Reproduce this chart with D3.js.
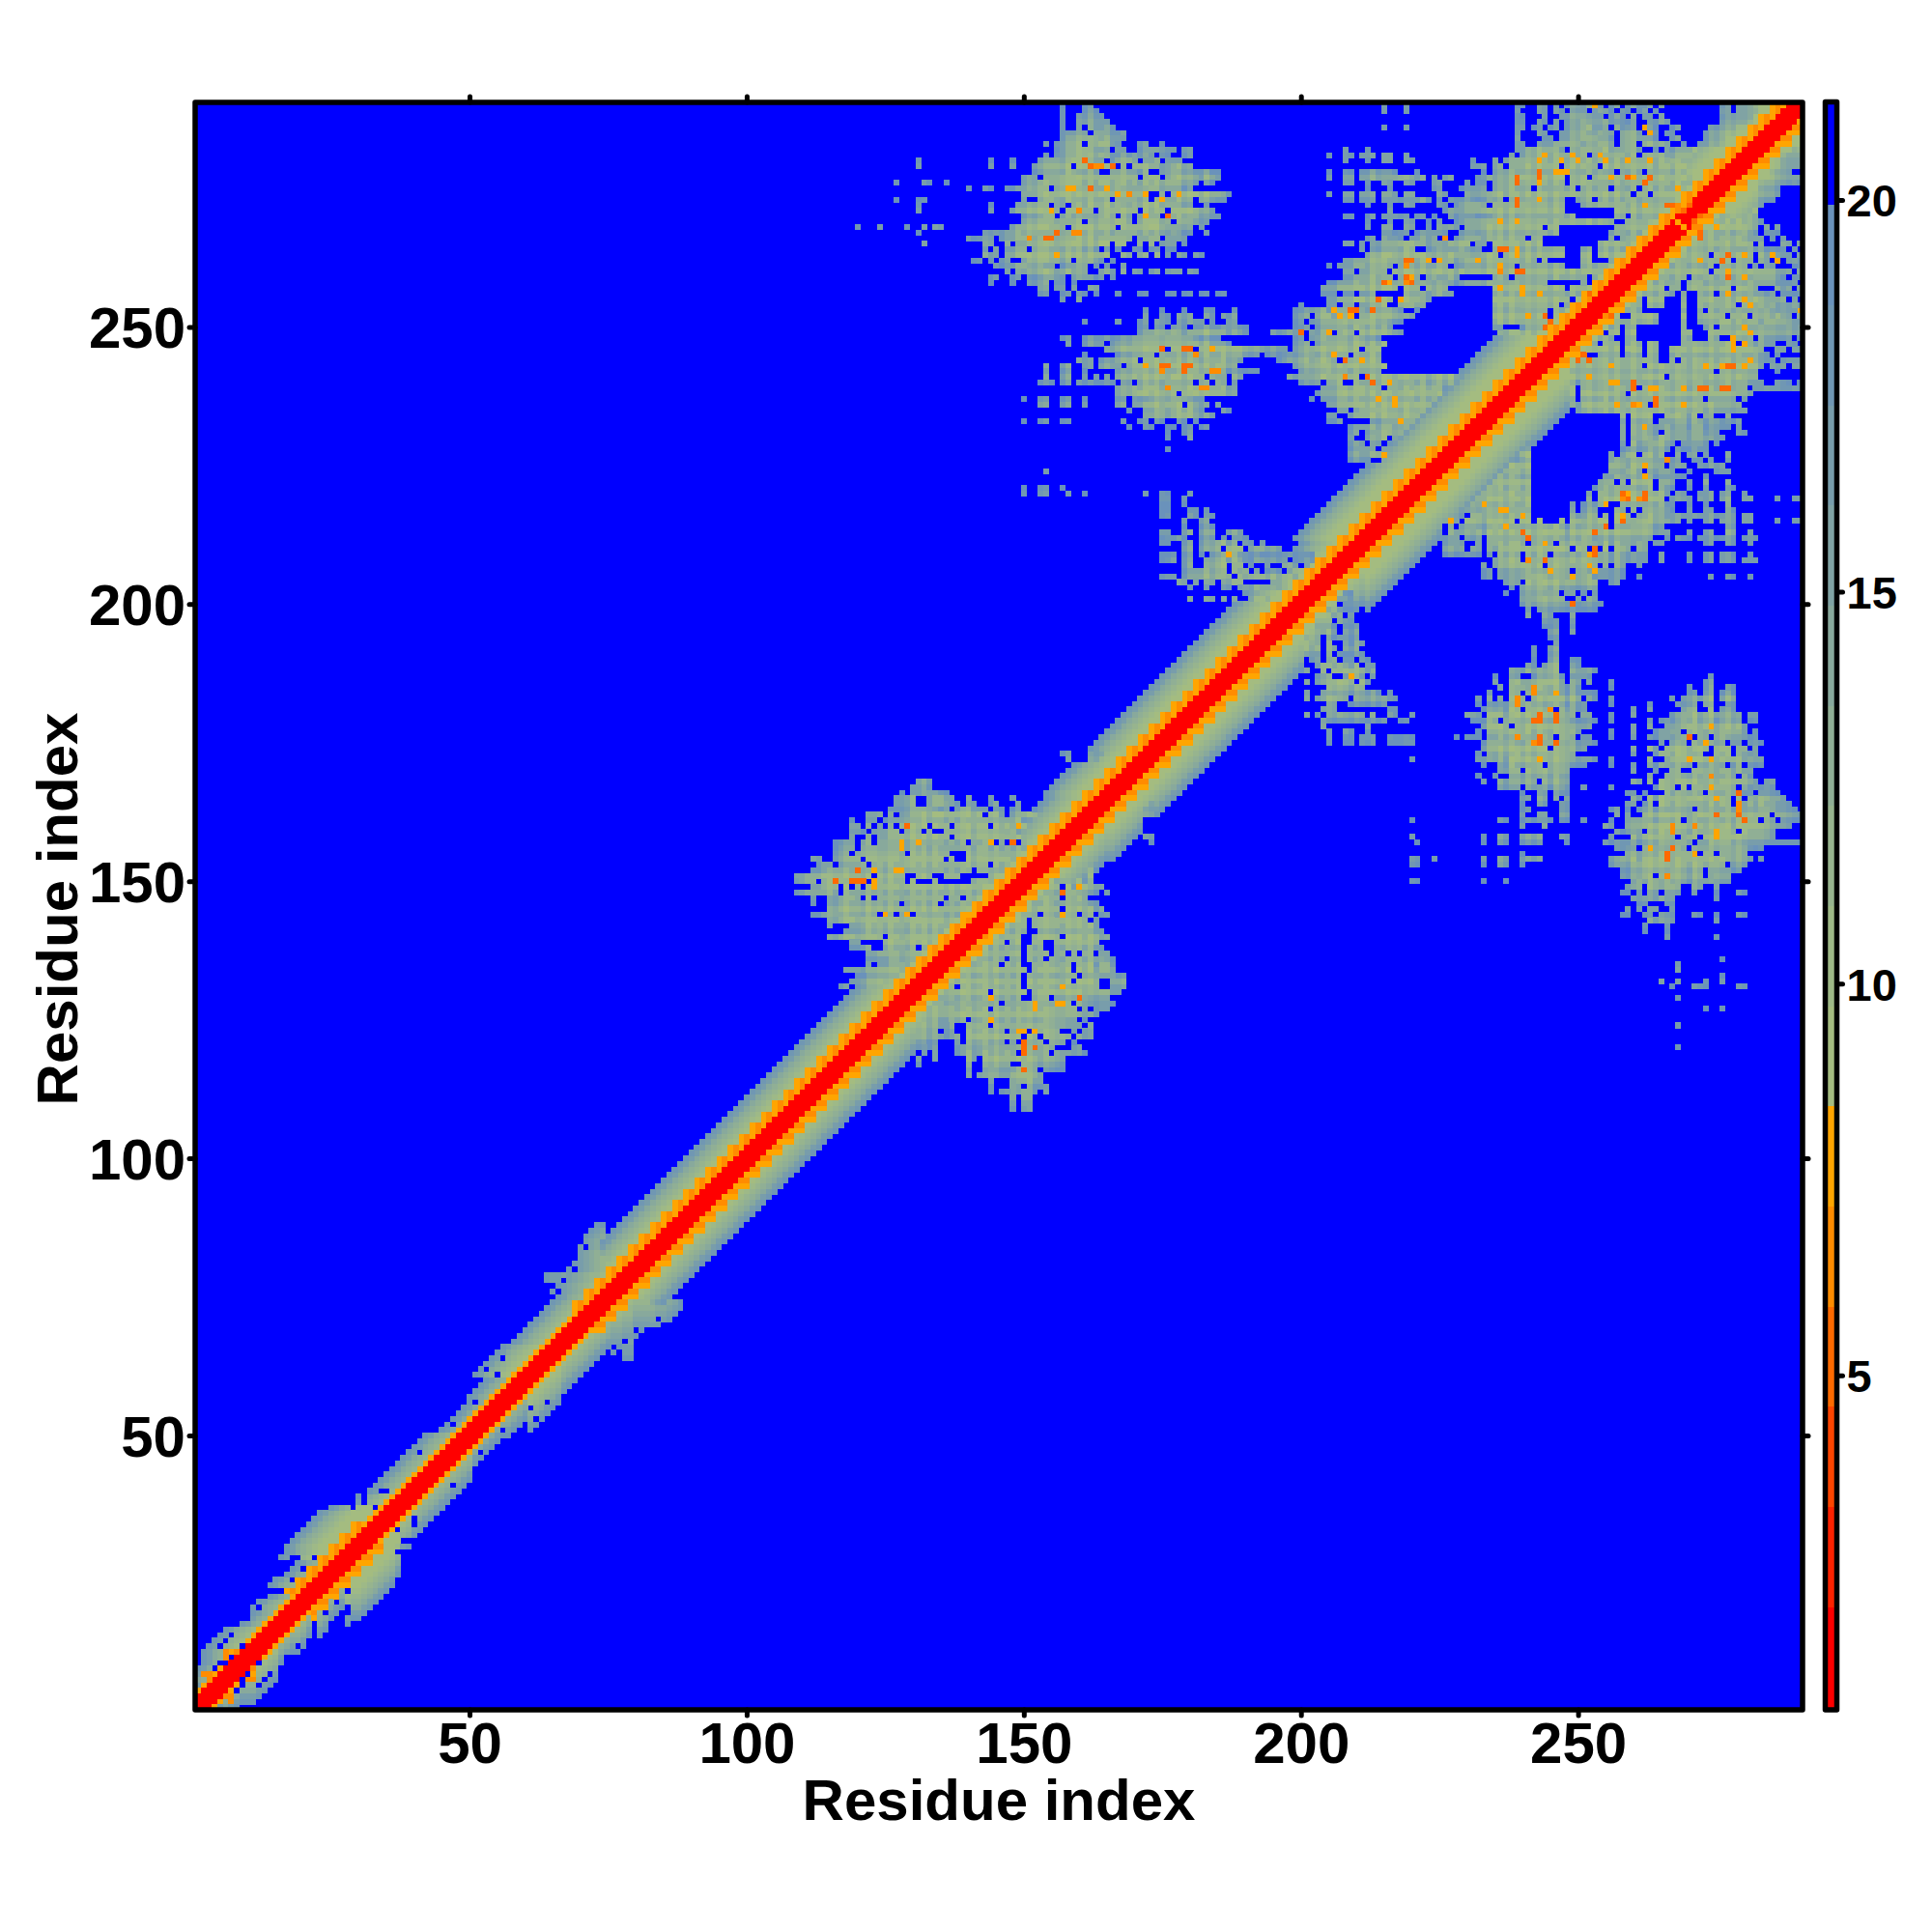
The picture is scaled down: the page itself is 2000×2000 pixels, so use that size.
<!DOCTYPE html>
<html><head><meta charset="utf-8">
<script src="https://cdnjs.cloudflare.com/ajax/libs/d3/7.8.5/d3.min.js"></script>
<style>html,body{margin:0;background:#fff}svg{display:block}text{font-family:"Liberation Sans",Arial,sans-serif;font-weight:bold;fill:#000}</style>
</head><body><div id="chart"></div>
<script>
const residueCount = 290;
const axisTicks = [50,100,150,200,250];
const barTicks = [5,10,15,20];
const barDomain = [0.77,21.22];
const bandColors = ["#ff0000","#ff2200","#ff4500","#ff6a00","#ff8c00","#ffa500","#a4bc80","#9eb987","#97b48e","#90af95","#88a99c","#80a3a4","#789dab","#7097b3","#6a92bb","#0000ff"];
// tone letters, from closest to farthest band
const toneOrder = "rRstoyihgfedcba.";
// [last row of the stretch, how far the diagonal band reaches from the diagonal]
const bandReach = [[5,5],[9,7],[10,8],[15,9],[18,7],[20,8],[22,7],[24,9],[27,8],[29,12],[36,13],[37,12],[39,9],[50,8],[56,6],[60,7],[66,10],[76,9],[80,10],[165,11],[204,12],[211,11],[222,13],[290,13]];
const wideOrange = [[22,34],[73,290]];
const edgeTones = "bcefgh";
// single blue cells inside the band: [row, column]
const bandHoles = [[38,29],[38,31],[37,29],[40,34],[37,33],[28,22],[28,18],[28,19],[27,18],[26,20],[24,18],[22,15],[22,16],[19,12],[17,10],[14,7],[13,6],[12,5],[12,9],[10,7],[9,5],[9,6],[8,4],[40,35],[39,31],[47,41],[52,47],[56,51],[62,53],[64,56],[59,51],[61,55]];
// how each residue leans in the contact patches: + closer (greener), - farther (bluer), 0 neutral
const residueLean = "0000000000"+"0000000000"+"0000000000"+"0000000000"+"0000000000"+"0000000000"+"0000000000"+"0000000000"+"0000000000"+"0000000000"+"0000000000"
 +"+0-0+-0+0-"+"-+00-+0--+"+"0+-+0-0-++"+"-0+-+-0-+0"+"+-0+0--+0+"+"-+-0+-0+-0"+"-+0+--0+-+"+"0-+-0+-+0-"+"-+0-+-0+-0"
 +"+--+0-+0-+"+"0-+-+0--+0"+"-+-0+-+-0+"+"0--+0+-+0-"+"+-+0-+0-+-"+"0+-0+-+--+"+"-0+-+0-+0-"+"+0-+-0+-+0";
// "row firstColumn tones": cells above the diagonal, mirrored below it
const contactRows = [
"11 6 oyo","10 6 oo","7 2 oo","6 3 o",
"88 73 bb","87 72 bcd","86 71 bcde","85 71 cde","84 70 c.de","83 70 cdef","82 70 cdefg","81 69 bcdefg","80 68 b.cdef","79 64 bccdcdefg","78 64 bcc.cdefg","77 66 bcdefgf","76 65 b.cdefg",
"168 131 cdc","167 130 bcdc","166 128 b.cdefdcb","165 127 bcde..defdc..c...c...c","164 127 cdef..efgfdc.cd..cd...c","163 126 bcdefgfgdcf.efgedc.cd.cd..c",
"162 122 bcd.c.cdefgfghgfgfgfg.gfc.cdefg","161 119 b..cd.cdefgfghgfgfgfgfhgfgfgfgh","160 119 cd.d.c.d.gtgfg.gfg.gfgfgf.gfgfyg","159 119 cdb.cdefg.fgf.g..gfgfgfgfgfgfh","158 119 c..d.cdefgfgfgfgfg.gfgfgfgfgfgh",
"157 116 bcde.fg.fgfgyfgyfgfgfgfg.gfgy.g.t.g","156 116 cdef.gfgfgfgyfgfgfgfgfgfgfhgfgfgfgf","155 116 cde.fgfgfgfgf.gfgfgfg...gfgfgfgfg","154 112 cc..cdefg.fgfgfgfgfgfgfg.f..gfgfgfhgfgfgfg","153 113 cdc.cdefg.fgfgfghgfgfgfgfgfgfgf.gfgf",
"152 112 cdefgfgftgfygfgyygfgfgfgfgfgf.gfgfg.fgf","151 109 ccdefgfgfgfgfg.gfgfg..fgf..gfg.....fgfgfgfg","150 109 cdef.fgtgfttt.ygfgfg.g...f......fgfgfgfgf","149 109 ...cdefg.g.f.fyfgfgfgfgfgfgfgfgfgfgfgfg","148 109 cdefgfgf.gfgfgfgfgfgfgfgfgfghgfgfgfg",
"147 112 c..cdefgf.g.fgfgfgfgfgfg.fg.fgfgfgfg","146 112 c..defgfgfgfgfgf.fgfgfg.fgfgfgfgf","145 115 defgfgfgfgfgfgfgfgfgfgfgfgfg","144 112 cdefgfgfgfgf.yf.gy.gfgfgfgfgy.gf","143 115 cdefgfgfgfgfgfgfgfgfgfg.fgfg",
"142 115 c...defgfgfgfgfgfgfgfgfgf","141 118 cdefgfgfgfgfgfgfgfgfg","140 115 cdefgfgfgf.fgfgfgfgf.gf.fg","139 119 cd....fgfgfgfgfgfgf","138 119 cdef..fgfgfg.fgfg","137 122 cdfgfgfgfgf.","136 122 bcdefgfgfg","135 122 c.cdefgfg","134 118 bcdcdefgfgf","133 120 bcdefgfg","132 119 bcdefg","131 117 bc.cde",
"173 157 bb...cdd","172 158 b...cd","171 159 c",
"290 157 b...bb","289 157 c...bcb","288 157 c..bcdcb","287 157 c..cdedcb","286 157 c..c.edcdb","285 157 cbcde.fedcbc","284 157 cdefgfgefdcb","283 154 b.cdefg.fghgdb...cc..b","282 156 bdefghfedd.cb..bcdcdcb.cb","281 154 b.cdefghgfgecbdcdcdc.cb..bb",
"280 144 b...b....cdefefhgtfed.cefgd.cde.dcb","279 144 c...c...cdefgfg.ghtooft.e.fgfedcdefdc","278 152 cdefgfhgefge..gfgfedg..efgfedcdecb","277 150 bcd.defgfghgfgfegffgf.egf.efgfedcfeb","276 150 cdefgfghghgfgfhgfggfgegfgfhgfedc.cb",
"275 140 b..cc..ccdefghg.ghyyghtgfyghfgfgfhgfgfecd","274 150 dcefgfghgfhgfghfgyfofgy..f.fyghgfgfecb","273 150 e..fghgfhgfghgfg.gfhgfg.gygfhgf.gfecb","272 144 b....cdefgf.fe.fgfhgfhfgefgfhghfgfedc..b","271 144 c...cdefghfyf.fgoge.efgfhgf.gefg.gfhgfedc",
"270 150 cdefgh.fgefgefghg.gf.fygf.tghgfgeddc","269 150 defgfgfgefg.efgfghgf.fghgfg.fgedcb","268 148 cdefghgfgf.fghgfgfg.fgfgfhgfedcdc.c","267 143 cdcdefgfghgfgtgfooghgfgfgfhgfgfgfefdcb..c","266 140 bbbcd.cdefgofgttfgfghghfgfhgfg.fdgf.edcd",
"265 143 cd..e.cdefghgfgfhgfgfhg.gf..f.f.cdc.b","264 143 c.d.defg.ghgfgfgfgefd.c.b..cc.cc.bb","263 143 dcb.defghghgfyfgfgfhgfg..ee.ee.f.c.cc.cb","262 141 bb.c.cd..dfghgfgef.fgfeb.b","261 145 ccdefgefgde.cdefg.d.c..d","260 147 c.ccdefgfdefdde..cdc.d.cc.bc.ccb.bb","259 144 bc..bc.bcdefed.defdcd.d","258 144 b...c..cdef.dd.b","257 153 cc.cc.c..cd","256 153 cc..cc.cc.b...c...cb...cc.cb.cb.bb","255 157 c..c",
"280 131 b","279 131 b","276 127 b....bb..b","273 127 b...bb","272 131 b","271 131 b","268 120 b...b....b..b.bb","267 131 b","265 132 b",
"253 172 b..c...c...bb...b","252 172 b..cb.ccc..cb.bbc","251 161 c.....c...bc.cdc.ccdcd.c..dc","250 171 cc.cd.ddc.cdedcdedcb","249 171 bcdefefdcdefgfedcdcb","248 157 bc..cddcdbcdefgfgfghgfgedcdcb","247 158 c..cddc.cddefgfgfghgfgfgfgedcb","246 165 cdefgfghgft.gftt.gfyghgfgfedccccb","245 161 c.....bdefgfg.hgfgfgoghgfhgfgedc.bccccb.b","244 160 ddc.bcdefgh.fghghfgfgfefgfgedc",
"243 154 c..cd..cb.cddc.efgyfgttghttgfgfgfed","242 154 c..cd..c.....defghgfgogfgtghgfoofcdccdb","241 154 c..cd..c.c.b.defgfgfhgfhgfgfg.fdc.ec","240 153 bcb.cd.cccbbcc.de.fgfgfhgfgf.gf.ge.c","239 167 defgfghgfogfghgoogfgdc","238 167 cdefhgfhgfg.gfhgfgfedc","237 150 b..cc..cc..c.....cc.ddcefgfgfgdcd","236 153 cc..cc..c.....cd.cdefgfgfg.fdcc.c","235 169 c..cdfgefgfgdc...cb","234 172 cdefdefgfdcdc","233 150 b..bc..cb.........c..cc.cc..cc.b","232 169 c..cc..cb.bc.bc","231 176 b..bc","230 176 b...c","228 176 b",
"224 154 b","221 150 b..bb..b","220 150 b..bb...b..b..........b..cb...b",
"219 175 bb..b","218 175 bb..c","217 175 bc...bc.b","216 175 bc...cb.bc","215 179 c..cc","214 179 c..cdc","213 175 cc..cd.cde..cdb","212 175 cdcdc..cdd.b.cdc","211 175 cc..cd.cdefgde.dc.c","210 179 cd.cdef.gfg.ddedcc","209 175 bcc.cd.c.defygddccbcbbccccbc","208 175 bcd.cd..defgdgecbdddccc.bbcc","207 179 bd..defg.ef.b..c..ddc.b","206 179 cdefgfgg.gfh.d.ccb.d","205 175 cdc.cdefgfgfg.gfgfgfgfggfghd","204 178 cd.c.cd.cdef.....cefg.d","203 180 b..c..cd.dfegfgfghg","201 180 c..cd.c.c..dfgf",
"290 215 b...b","289 215 b...b","286 215 b...b","282 208 c...c","281 205 b..cc.cdc.cd..c","280 208 c...c..cd..cc..........b","278 205 b..cc.cdedcdc...c...........b","277 205 b..cd.cdedcdefedcd.b.cc....bcdd","276 208 cd..c..cc..cc...cc....b.cc","275 212 c...c.......cc.......b","274 205 b..cd.cdc.cdc.cd....cc...ccdedc","273 208 cd.cdc.cdedcdefd.b.cdcdccdefe","272 212 c...c..cc....bc","271 216 c.........bc","270 208 cd..cd.cdedc.dc.b..dcdcdcdc","269 212 c...c..cc..b.c..bcde","268 212 c..cd..cc..b.cdcc.bcd","267 215 cdcdc.cdedcd..cdefedc","266 212 cc.dcdc.cdede.o.cdefgy","265 208 cd.b.bcdefgfgfdcdcdefgf.dd","264 211 d.cdefgfhg..cdefdfgdce","263 212 defghgfgfhgfdefgfed","262 208 cddefghgfgfttfgy.ygfdefgy","261 205 b.cdefgfghgf.gogfgfegh.d","260 208 cd.cdefd.gfhgfgfghgfegd","259 208 cdefghgfg.gtyg.fgdfge","258 205 bcdefgfghgtyghotgfgefgdc","257 204 bcdefgfgfgfghg.gfg.gdef","256 204 bcd.cd.def.....gfgfefgfd","255 205 bcdefghfgtgf.ygfgdc","254 200 b....cd.ef.defgh..gfgfd","253 199 bcdefgcyfgttfetgfgfd..c","252 199 bcd.efgdyfy.efggfgfedc","251 199 bc.cdefgfhgfghgfedcb","250 199 bcd.defgfgfhgfgfgd","249 195 bbbcct.dcey.dgf.gfhgfedc","248 199 cd.efgfgfgfgfedc",
"247 199 cde.defgfgfhgfgfg","246 199 cdefggfghgfg.gfh","245 198 cdefgfgfyfg.gfghg","244 196 bcdefgfghgf.tgfyghg","243 199 cdefgfgfgfhgfgfgh","242 200 defgfhgfgfgfgfg","241 198 ccdcefgfgfogf.tgfg","240 200 cdef.fgh..gfgtghy","239 204 cdefgfghgfg.g","238 203 bcdefhgfgfgfg","237 202 b.cdefgfgfgfygfyg","236 205 cdefgfgfgfgfyg","235 207 cd.cfgfhgfg","234 205 bc..cdefgf","233 205 bcd.....cdefgyh","232 209 cdefgfgh","231 209 cd.cdfg","230 209 c..cdef.d","229 209 cdc.cd","228 209 cdefd.de","227 209 cdcdefy","226 209 cdcd..e",
"241 216 gfhgfgfefgfgd","240 217 hgfgfgefgfg","239 216 fgfgfhgfgf","238 216 gfgfhgfgfg","237 219 fgfgfg","236 219 gfhfg","235 218 fgfgf","234 215 gfgfgfg","233 219 fg","232 217 fgf","231 216 gfg",
"290 235 ....bb..cc.b.cdeceyc.cd.cdcbc.c..........bc.cdeg","289 235 ....c...cc.cb.cdc.decb.dc.bd.c...........cc.cdef","288 235 ....bb...c..cdefecdc.cdc.d.cb.c..........bcdcde","287 235 ....bc..cb.c.cdefdedecbcbc..bcdc.........cdedeg","286 235 ....cd.bb.cc.cdefgdcd.ecdc.ycb..bc.....bcdefgh","285 235 ....c...cc..cdefgdefde.fgfd.yc.bc.....cdefgh","284 235 ....d....bc.cdefgfgedc.fgfedcb..cd....cdefh","283 235 ....cd..ccdefgfgdefgfe.fgf.fgfed..b..cdefg","282 235 ....cdefgfgfc.efgfgfhedfgfd..c.dcdefgfh","281 235 ...c.defgyfgfgyfg.fyfgfhfg.ffgfdefgh",
"280 235 d.defgfgygfgyfgyfgfgyfgfyfgfyfgfhgfg","279 235 cd.defgfgfgf.fgfgef.gfgfgfgfgefgfgh","278 235 defgfgfgtfgyyyfgfgfgef.gfgf.fgfgfhg","277 235 cdefthfgtgfgh.efg.fgfyfgtyfgtghfgfhg","276 235 defgtgfgygfgf.fghfgfefgfgfgtfgfgfhfgh","275 235 efghfgf.gfgfgfg.fgfgf.fgfg.ghfgfgyhfgh","274 235 fgefgfgfhgfgfgfgefgfgfgfg.gf.gfghgfgh","273 235 ef.ftgfhygfgf..efg.fgfgfhgfgfgfghfgh","272 235 gfgfthfgfgfgf...defgfgfhfgfyfgftthgtgh","271 235 fgfgfgfgfgfgf.........fgfgfgfgfhfgtfgh","270 235 fgfgegfgefgfgfg.......fg.gfgfgfgfhgfgy","269 235 gyfgyhfgfgfgfgfgfgfgef..gfgfgfgfgyfgfgh","268 235 fgfgfgfgf.gf..........dfgfgfgfgfhgfgfg","267 235 fgfgfgfgfgfg.........efgfgfgfgfhgfgfh","266 235 fgfgfg.gf............f.fgfgfgfgfgfgh","265 235 gfgfgfgfg..........efgfgfgfgfhfgfh","264 235 gttfyfgfgfgfg...ef.fgfgfgfgfghgfg","263 235 f.fgyfgfgfgfg...fg.fgfgfgfgfgfhg","262 235 gfgfgfgf.g......fg...fgfgfgfghg","261 235 gygf.gfgfgfgf...fgfgfgfgfghfg","260 235 gofgttfgfgfhgfgfgfgfgfhfghg","259 235 fgf.fgfgfgfhfgfgf.gfgfgfgh","258 235 gfgfhgfgfg......f.gfgfgfg","257 235 gygfgyfgfgfgf.fgfgfgfgfh","256 235 fgfgfyfgyfgfgfgfgtfgfgh","255 235 gfhgfgfgfgfgfg.gfgfgfg","254 235 fgfgfgfgfgfg.fgfgfgfg","253 235 fgfgfgfgfg.gfgfgfgfh","252 235 fgfgfgyfgt.fgfgfgfh","251 235 egfgfgfgfgtgfghfgh","250 235 dc...cfgftgfgfgfg","249 236 defgfgfgfgfgfhg",
"279 231 bcd","275 229 bcdef","272 228 cdefgf","271 226 bcdcdefgf","269 229 cdefgf","268 230 cdefg","267 232 efg","266 233 ef","263 231 defg","262 233 fg","261 229 defgfg","260 231 fgfg","258 229 defgfg"
];

const cellMap = new Map();
const setCell = (row,col,band) => { if(row<1||col<1||row>residueCount||col>residueCount) return; cellMap.set(row+"_"+col,band); cellMap.set(col+"_"+row,band); };
const bandOf = t => toneOrder.indexOf(t);
const inStretch = (row,list) => list.some(s => row>=s[0] && row<=s[1]);
for(let row=1; row<=residueCount; row++){
  const reach = bandReach.find(s => row<=s[0])[1];
  const wide = inStretch(row,wideOrange);
  for(let d=0; d<=reach && row-d>=1; d++){
    let tone;
    if(d<=2) tone="r";
    else if(d===3) tone = wide ? (row%2?"o":"y") : "y";
    else if(d===4 && wide) tone = row%2?"y":"o";
    else if(d===5 && wide && row%2===0) tone = "y";
    else tone = edgeTones[reach-d] || "i";
    setCell(row,row-d,bandOf(tone));
  }
}
const leanAt = i => ({"+":-1,"-":1,"0":0})[residueLean[i-1]] || 0;
contactRows.forEach(s => {
  const [rowText,colText,tones] = s.split(" ");
  const row=+rowText, first=+colText;
  [...tones].forEach((t,k) => {
    const col=first+k, b=bandOf(t);
    if(col>=row) return;
    if(row-col<=5 && !(b>=3 && b<=5)) return;
    if(b>=6 && b<=14) setCell(row,col,Math.max(6,Math.min(14,b+leanAt(row)+leanAt(col))));
    else setCell(row,col,b);
  });
});
bandHoles.forEach(h => setCell(h[0],h[1],15));

const bandValue = b => barDomain[0] + (barDomain[1]-barDomain[0])*(b+.5)/bandColors.length;
const cells = [];
cellMap.forEach((b,k) => { if(b!==15){ const [r,c]=k.split("_").map(Number); cells.push({row:r,col:c,value:bandValue(b)}); } });

const color = d3.scaleQuantize().domain(barDomain).range(bandColors);
const x = d3.scaleLinear().domain([.5,residueCount+.5]).range([202,1866]);
const y = d3.scaleLinear().domain([.5,residueCount+.5]).range([1770,106]);
const barY = d3.scaleLinear().domain(barDomain).range([1767,108]);

const svg = d3.select("#chart").append("svg").attr("width",2000).attr("height",2000);
svg.append("rect").attr("width",2000).attr("height",2000).attr("fill","#fff");
svg.append("rect").attr("x",x(.5)).attr("y",y(residueCount+.5)).attr("width",x(residueCount+.5)-x(.5)).attr("height",y(.5)-y(residueCount+.5)).attr("fill",bandColors[15]);
const cw = x(1.5)-x(.5);
svg.append("g").attr("shape-rendering","crispEdges").selectAll("rect").data(cells).join("rect")
  .attr("x",d=>x(d.col-.5)).attr("y",d=>y(d.row+.5)).attr("width",cw+.3).attr("height",cw+.3).attr("fill",d=>color(d.value));

function styleAxis(g,size){
  g.select(".domain").remove();
  g.selectAll("line").attr("stroke","#000").attr("stroke-width",5).attr("stroke-linecap","round");
  g.selectAll("text").style("font-size",size+"px");
}
const fmt = d3.format("d");
svg.append("g").attr("transform","translate(0,1770)").call(d3.axisBottom(x).tickValues(axisTicks).tickFormat(fmt).tickSize(6).tickPadding(0))
  .call(g=>styleAxis(g,60)).call(g=>g.selectAll("text").attr("y",55).attr("dy",0));
svg.append("g").attr("transform","translate(0,106)").call(d3.axisTop(x).tickValues(axisTicks).tickFormat("").tickSize(6)).call(g=>styleAxis(g,60));
svg.append("g").attr("transform","translate(202,0)").call(d3.axisLeft(y).tickValues(axisTicks).tickFormat(fmt).tickSize(6).tickPadding(0))
  .call(g=>styleAxis(g,60)).call(g=>g.selectAll("text").attr("x",-10).attr("dy","0.36em"));
svg.append("g").attr("transform","translate(1866,0)").call(d3.axisRight(y).tickValues(axisTicks).tickFormat("").tickSize(6)).call(g=>styleAxis(g,60));
svg.append("rect").attr("x",202).attr("y",106).attr("width",1664).attr("height",1664).attr("fill","none").attr("stroke","#000").attr("stroke-width",5.5).attr("stroke-linejoin","round");

const step = (barDomain[1]-barDomain[0])/bandColors.length;
svg.append("g").attr("shape-rendering","crispEdges").selectAll("rect").data(bandColors).join("rect")
  .attr("x",1889).attr("width",12).attr("y",(d,i)=>barY(barDomain[0]+step*(i+1))).attr("height",(d,i)=>barY(barDomain[0]+step*i)-barY(barDomain[0]+step*(i+1))+.5).attr("fill",d=>d);
svg.append("g").attr("transform","translate(1901.5,0)").call(d3.axisRight(barY).tickValues(barTicks).tickFormat(fmt).tickSize(6).tickPadding(0))
  .call(g=>styleAxis(g,47)).call(g=>g.selectAll("text").attr("x",10).attr("dy","0.36em"));
svg.append("rect").attr("x",1889.5).attr("y",105.5).attr("width",12).attr("height",1664.5).attr("fill","none").attr("stroke","#000").attr("stroke-width",5.5).attr("stroke-linejoin","round");

svg.append("text").attr("x",1034).attr("y",1884).attr("text-anchor","middle").style("font-size","60px").text("Residue index");
svg.append("text").attr("transform","translate(80,941) rotate(-90)").attr("text-anchor","middle").style("font-size","60px").text("Residue index");
</script></body></html>
